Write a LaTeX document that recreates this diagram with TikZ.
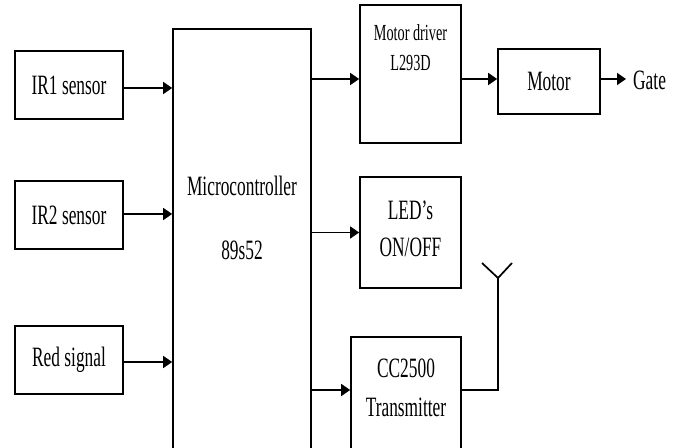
\documentclass[tikz,border=0pt]{standalone}
\usepackage{fontspec}
\setmainfont[FakeStretch=0.62]{Liberation Serif}
\usepackage{tikz}
\usetikzlibrary{arrows.meta, positioning, calc}

\tikzset{
	blk/.style={draw, line width=1.7pt, minimum width=108pt, minimum height=68pt, inner sep=0pt},
	txt/.style={font=\fontsize{28}{32}\selectfont, inner sep=0pt},
	sml/.style={font=\fontsize{23}{27}\selectfont, inner sep=0pt},
	flow/.style={line width=1.7pt, -{Triangle[length=9pt,width=12pt]}}
}

\begin{document}
\begin{tikzpicture}[x=1pt,y=1pt]
			\useasboundingbox (0,0) rectangle (685,447);
			% inputs
			\node[blk, txt] (ir1) at (69,362) {IR1 sensor};
			\node[blk, txt] (ir2) at (69,232) {IR2 sensor};
			\node[blk, txt] (red) at (69,87) {Red signal};
			% controller
			\node[blk, minimum width=138pt, minimum height=441pt] (mcu) at (242,197.5) {};
			\node[txt] (mcuname) at (242,261) {Microcontroller};
			\node[txt] (mcutype) at (242,197) {89s52};
			% outputs
			\node[blk, minimum width=101pt, minimum height=138pt] (driver) at (410.5,373) {};
			\node[sml] (drvname) at (410.5,414) {Motor driver};
			\node[sml] (drvtype) at (410.5,384) {L293D};
			\node[blk, txt, minimum width=102pt, minimum height=65pt] (motor) at (549,365.5) {Motor};
			\node[txt, anchor=west] (gate) at (633,367) {Gate};
			\node[blk, minimum width=101pt, minimum height=111pt] (led) at (410.5,214.5) {};
			\node[txt] (ledname) at (410.5,237) {LED's};
			\node[txt] (ledstate) at (410.5,200) {ON/OFF};
			\node[blk, minimum width=110pt, minimum height=133pt] (tx) at (406,43.5) {};
			\node[txt] (txname) at (406,79) {CC2500};
			\node[txt] (txrole) at (406,40) {Transmitter};
			\coordinate (r1) at (0,368);
			\coordinate (r3) at (0,57);
			\coordinate (ant) at (498,169);
			% connectors
			\draw[flow] (ir1.east |- 0,359) -- (mcu.west |- 0,359);
			\draw[flow] (ir2.east |- 0,233) -- (mcu.west |- 0,233);
			\draw[flow] (red.east |- 0,85) -- (mcu.west |- 0,85);
			\draw[flow] (mcu.east |- r1) -- (driver.west |- r1);
			\draw[flow] (driver.east |- r1) -- (motor.west |- r1);
			\draw[flow] (motor.east |- r1) -- ([xshift=-7pt]gate.west |- r1);
			\draw[flow] (mcu.east |- led.west) -- (led.west);
			\draw[flow] (mcu.east |- r3) -- (tx.west |- r3);
			% antenna
			\draw[line width=1.7pt] (tx.east |- r3) -- (ant |- r3) -- (ant);
			\draw[line width=1.7pt] (ant) -- ++(-16,15);
			\draw[line width=1.7pt] (ant) -- ++(14,15);
		\end{tikzpicture}
\end{document}
